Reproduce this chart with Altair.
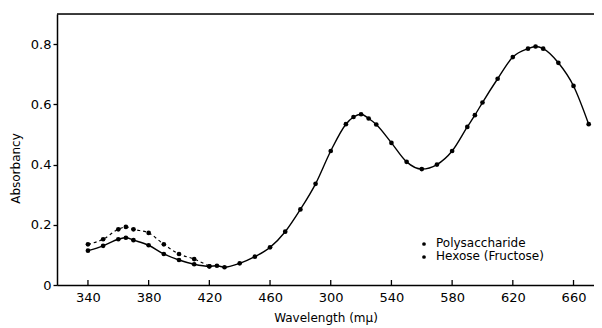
import altair as alt
import pandas as pd

# Polysaccharide (dashed, diverges only at short wavelengths)
poly_wl = [340, 350, 360, 365, 370, 380, 390, 400, 410, 420]
poly_abs = [0.135, 0.152, 0.185, 0.193, 0.185, 0.173, 0.135, 0.103, 0.086, 0.062]

# Hexose (Fructose), solid over the full range
hex_wl = [340, 350, 360, 365, 370, 380, 390, 400, 410, 420, 425, 430, 440, 450,
          460, 470, 480, 490, 500, 510, 515, 520, 525, 530, 540, 550, 560, 570,
          580, 590, 595, 600, 610, 620, 630, 635, 640, 650, 660, 670]
hex_abs = [0.114, 0.130, 0.152, 0.157, 0.149, 0.132, 0.103, 0.083, 0.069, 0.062,
           0.064, 0.059, 0.072, 0.094, 0.125, 0.177, 0.251, 0.336, 0.445, 0.534,
           0.558, 0.567, 0.553, 0.533, 0.472, 0.409, 0.385, 0.400, 0.445, 0.525,
           0.564, 0.606, 0.685, 0.757, 0.785, 0.792, 0.785, 0.738, 0.661, 0.534]

x_ticks = [340, 380, 420, 460, 500, 540, 580, 620, 660]
x_tick_labels = ["340", "380", "420", "460", "300", "540", "580", "620", "660"]
y_ticks = [0, 0.2, 0.4, 0.6, 0.8]
legend_labels = ["Polysaccharide", "Hexose (Fructose)"]

FONT = "DejaVu Sans"
W, H = 537, 271

poly = pd.DataFrame({"wl": poly_wl, "a": poly_abs})
hexo = pd.DataFrame({"wl": hex_wl, "a": hex_abs})
ticks_df = pd.DataFrame({"wl": x_ticks})
leg = pd.DataFrame({"label": legend_labels, "row": [0, 1]})

label_map = "{" + ",".join(f"'{v}':'{l}'" for v, l in zip(x_ticks, x_tick_labels)) + "}"

xs = alt.Scale(domain=[319.6, 673.5], nice=False, zero=False)
ys = alt.Scale(domain=[0, 0.9], nice=False)

x_axis = alt.Axis(values=x_ticks, title="Wavelength (mμ)", tickSize=0, grid=False,
                  labelExpr=f"{label_map}[datum.value] || datum.label",
                  labelFont=FONT, labelFontSize=13, labelColor="black", labelPadding=6,
                  titleFont=FONT, titleFontSize=12, titleFontWeight="normal",
                  titleColor="black", titlePadding=8, domainColor="black", domainWidth=1.5)
y_axis = alt.Axis(values=y_ticks, title="Absorbancy", tickSize=4, grid=False,
                  labelExpr="datum.value == 0 ? '0' : format(datum.value, '.1f')",
                  labelFont=FONT, labelFontSize=13, labelColor="black", labelPadding=2,
                  tickColor="black", tickWidth=1.3,
                  titleFont=FONT, titleFontSize=12, titleFontWeight="normal",
                  titleColor="black", titlePadding=8, titleY=154,
                  domainColor="black", domainWidth=1.5)

hex_line = alt.Chart(hexo).mark_line(color="black", strokeWidth=1.4, interpolate="monotone").encode(
    x=alt.X("wl:Q", scale=xs, axis=x_axis),
    y=alt.Y("a:Q", scale=ys, axis=y_axis),
)
hex_pts = alt.Chart(hexo).mark_circle(color="black", size=22, opacity=1).encode(
    x=alt.X("wl:Q", scale=xs), y=alt.Y("a:Q", scale=ys))
poly_line = alt.Chart(poly).mark_line(color="black", strokeWidth=1.2, strokeDash=[3, 3],
                                      interpolate="monotone").encode(
    x=alt.X("wl:Q", scale=xs), y=alt.Y("a:Q", scale=ys))
poly_pts = alt.Chart(poly).mark_circle(color="black", size=22, opacity=1).encode(
    x=alt.X("wl:Q", scale=xs), y=alt.Y("a:Q", scale=ys))

tick_marks = alt.Chart(ticks_df).mark_rule(color="black", strokeWidth=1.3).encode(
    x=alt.X("wl:Q", scale=xs), y=alt.value(H), y2=alt.value(H - 5))

top_border = alt.Chart(ticks_df.head(1)).mark_rule(color="black", strokeWidth=1.3).encode(
    x=alt.value(0), x2=alt.value(W), y=alt.value(0))

leg_dots = alt.Chart(leg).transform_calculate(py="230 + datum.row * 13").mark_circle(
    color="black", size=14, opacity=1).encode(
    x=alt.value(367), y=alt.Y("py:Q", scale=None, axis=None))
leg_text = alt.Chart(leg).transform_calculate(py="229 + datum.row * 13").mark_text(
    align="left", baseline="middle", font=FONT, fontSize=12, color="black").encode(
    x=alt.value(379), y=alt.Y("py:Q", scale=None, axis=None), text="label:N")

chart = alt.layer(hex_line, poly_line, hex_pts, poly_pts, tick_marks, top_border,
                  leg_dots, leg_text).properties(
    width=W, height=H,
    autosize=alt.AutoSizeParams(type="none"),
    padding={"left": 49, "top": 6, "right": 0, "bottom": 43},
).configure_view(stroke=None).configure(background="white")

chart.save("out.html", embed_options={"renderer": "svg", "actions": False})
